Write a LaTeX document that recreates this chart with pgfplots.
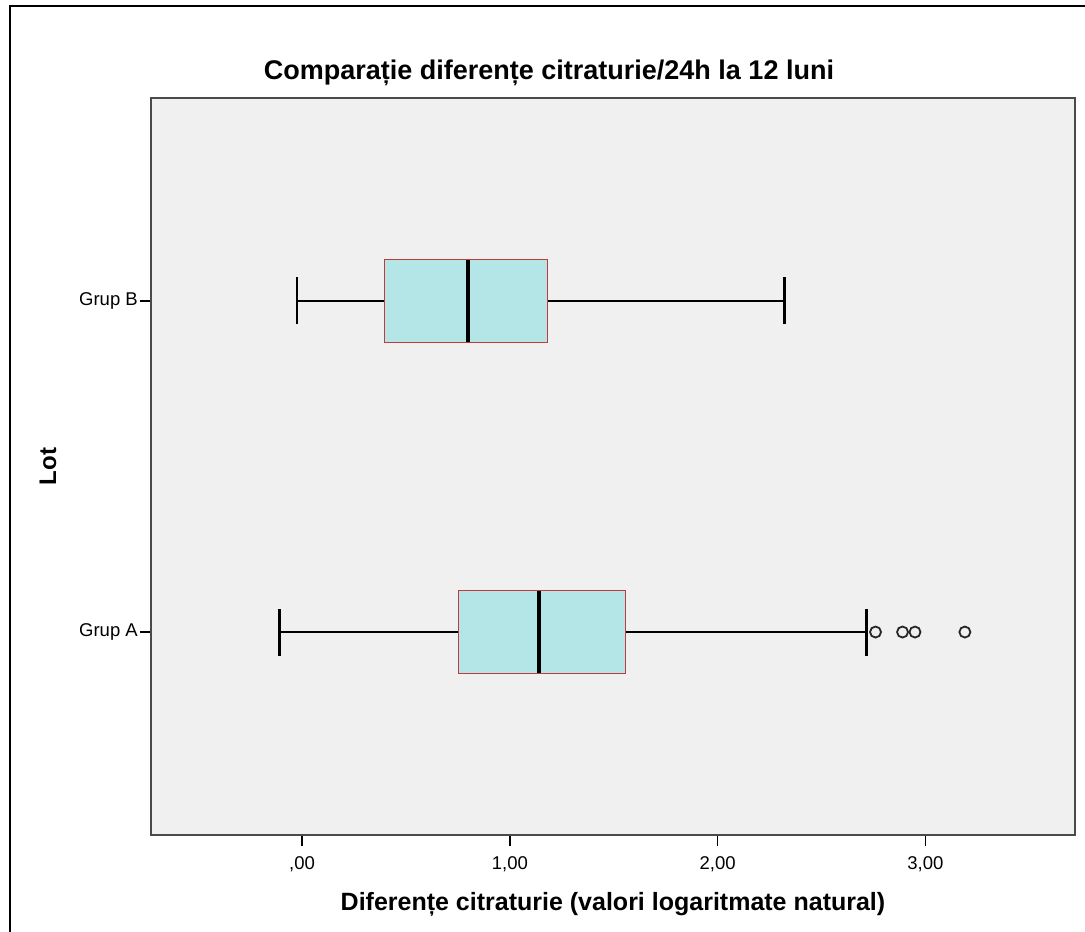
\documentclass[border=0pt]{standalone}
\usepackage{fontspec}
\setmainfont{Liberation Sans}
\usepackage{pgfplots}
\pgfplotsset{compat=1.18}
\usepgfplotslibrary{statistics}

\definecolor{bggray}{HTML}{F0F0F0}
\definecolor{boxfill}{HTML}{B4E6E8}
\definecolor{boxedge}{HTML}{C23A3A}
\definecolor{framegray}{HTML}{4A4A4A}

\begin{document}
\begin{tikzpicture}[x=1pt,y=1pt]
% picture is 1085 x 932 units, axis box lower-left at (0,0)
\useasboundingbox (-151,-97) rectangle (934,835);
\fill[white] (-151,-97) rectangle (934,835);
\draw[black, line width=2pt] (-141,-97) -- (-141,829) -- (934,829);

\begin{axis}[
    scale only axis, width=924pt, height=737pt,
    xmin=-0.727, xmax=3.72, ymin=0.387, ymax=2.613,
    axis background/.style={fill=bggray},
    axis line style={framegray, line width=2pt},
    xtick={0,1,2,3},
    xticklabels={\mbox{,00},\mbox{1,00},\mbox{2,00},\mbox{3,00}},
    ytick={1,2}, yticklabels={Grup A, Grup B},
    tick align=outside, major tick length=11pt,
    tick style={black, line width=1.5pt},
    xtick pos=bottom, ytick pos=left,
    ticklabel style={font=\fontsize{18.5}{20}\selectfont},
    xticklabel style={inner sep=2pt, yshift=-8pt},
    yticklabel style={inner sep=2pt},
    title={Comparație diferențe citraturie/24h la 12 luni},
    title style={font=\bfseries\fontsize{27}{30}\selectfont, anchor=base,
        at={(axis description cs:0.4307,1.0167)}},
    xlabel={Diferențe citraturie (valori logaritmate natural)},
    xlabel style={font=\bfseries\fontsize{25}{27}\selectfont, anchor=base,
        at={(axis description cs:0.5,-0.1018)}},
    ylabel={Lot},
    ylabel style={font=\bfseries\fontsize{24}{26}\selectfont, anchor=center,
        at={(axis description cs:-0.1115,0.5)}},
    boxplot/box extend=0.25,
    boxplot/whisker extend=0.142,
    boxplot/every box/.style={draw=boxedge, fill=boxfill, line width=1.4pt},
    boxplot/every whisker/.style={black, line width=2.8pt},
    boxplot/every median/.style={black, line width=4pt},
]
% Grup A
\addplot+[black, mark=o, mark size=5.5pt, mark options={black!85, line width=1.8pt, fill=none},
    boxplot prepared={draw position=1,
        lower whisker=-0.11, lower quartile=0.754, median=1.14,
        upper quartile=1.556, upper whisker=2.715}]
    table[row sep=\\, y index=0] {2.76\\ 2.89\\ 2.95\\ 3.19\\};
% Grup B
\addplot+[black, mark=none,
    boxplot prepared={draw position=2,
        lower whisker=-0.024, lower quartile=0.396, median=0.80,
        upper quartile=1.18, upper whisker=2.32}]
    coordinates {};
\end{axis}
\end{tikzpicture}
\end{document}
